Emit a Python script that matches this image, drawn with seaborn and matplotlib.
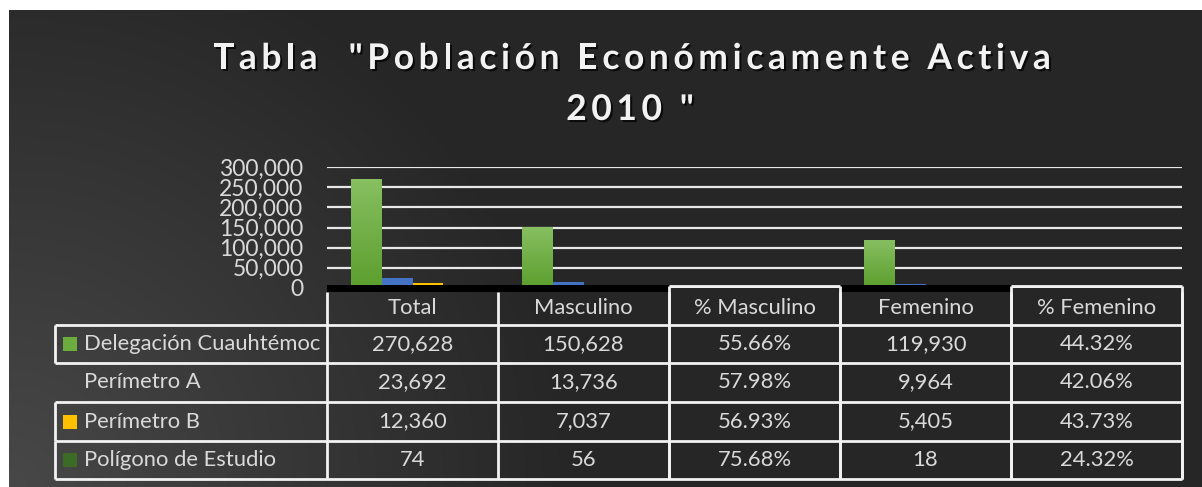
import numpy as np
import pandas as pd
import matplotlib
matplotlib.use('Agg')
import matplotlib.pyplot as plt
import seaborn as sns
from matplotlib import patheffects as pe
from matplotlib.patches import Rectangle
from matplotlib.font_manager import FontProperties
from matplotlib.ticker import FuncFormatter

categories = ['Total', 'Masculino', '% Masculino', 'Femenino', '% Femenino']
series = ['Delegación Cuauhtémoc', 'Perímetro A', 'Perímetro B', 'Polígono de Estudio']
delegacion = [270628, 150628, 0.5566, 119930, 0.4432]
perimetro_a = [23692, 13736, 0.5798, 9964, 0.4206]
perimetro_b = [12360, 7037, 0.5693, 5405, 0.4373]
poligono = [74, 56, 0.7568, 18, 0.2432]

title_lines = ['Tabla  "Población Económicamente Activa', '2010 "']

bar_colors = ['#6cab3e', '#4472c4', '#ffc000', '#3b6b24']
key_colors = ['#6cab3e', None, '#ffc000', '#3b6b24']  # Perímetro A has no key in the original

values = [delegacion, perimetro_a, perimetro_b, poligono]
df = pd.DataFrame([
    {'serie': s, 'categoria': c, 'valor': v}
    for s, vals in zip(series, values)
    for c, v in zip(categories, vals)
])


def fmt_cell(cat, v):
    if cat.startswith('%'):
        return f'{v * 100:.2f}%'
    return f'{v:,.0f}'


def spaced_text(ax, cx, y, s, extra, fp, **kw):
    """Draw s centred on cx with extra letter spacing (pixel coords of ax)."""
    r = ax.figure.canvas.get_renderer()
    bar_w = r.get_text_width_height_descent('|', fp, ismath=False)[0]
    pos = []
    for i in range(len(s)):
        w = r.get_text_width_height_descent(s[:i] + '|', fp, ismath=False)[0] - bar_w
        pos.append((w if i else 0) + i * extra)
    total = r.get_text_width_height_descent(s, fp, ismath=False)[0] + (len(s) - 1) * extra
    start = cx - total / 2
    for ch, p in zip(s, pos):
        if ch != ' ':
            ax.text(start + p, y, ch, fontproperties=fp, ha='left', va='baseline', **kw)


W, H = 1202, 487
FONT = ['Lato', 'DejaVu Sans']
TXT = '#d9d9d9'
LINE = '#f2f2f2'

sns.set_style('white')
plt.rcParams['font.family'] = FONT

fig = plt.figure(figsize=(W / 100, H / 100), dpi=100)
fig.patch.set_facecolor('white')

# dark gradient background (white strip on top and left like the original)
bg = fig.add_axes([9 / W, 0, (W - 9) / W, (H - 10) / H])
yy, xx = np.mgrid[0:H - 10, 0:W - 9]
d = np.hypot(xx, (H - 11) - yy)
v = np.clip(72 - 0.06 * d, 38, None) / 255
bg.imshow(np.dstack([v, v, v]), aspect='auto', interpolation='bilinear')
bg.axis('off')

# chart area, aligned with table columns
x0, col_w = 327, 171
y_zero, y_top = 287.7, 167.3
ax = fig.add_axes([x0 / W, (H - y_zero) / H, col_w * 5 / W, (y_zero - y_top) / H])
ax.patch.set_alpha(0)
sns.barplot(data=df, x='categoria', y='valor', hue='serie', order=categories,
            hue_order=series, palette=bar_colors, saturation=1, width=0.725,
            errorbar=None, linewidth=0, legend=False, ax=ax)
ax.set_xlim(-0.5, 4.5)
ax.set_ylim(0, 300000)
ax.set_yticks(range(0, 300001, 50000))
ax.yaxis.set_major_formatter(FuncFormatter(lambda val, _: f'{val:,.0f}'))
ax.grid(axis='y', color='#e8e8e8', lw=1.6)
ax.set_axisbelow(True)
ax.set_xticks([])
ax.set_xlabel('')
ax.set_ylabel('')
for sp in ax.spines.values():
    sp.set_visible(False)
ax.tick_params(axis='y', length=0, pad=17, labelsize=16.5, labelcolor=TXT)

# light-to-dark gradient on the green bars
grad = np.linspace(0, 1, 64)[:, None]
top, bot = np.array([0.53, 0.75, 0.38]), np.array([0.36, 0.62, 0.18])
green_img = top * (1 - grad[..., None]) + bot * grad[..., None]
for p in list(ax.patches):
    if np.allclose(p.get_facecolor()[:3], matplotlib.colors.to_rgb(bar_colors[0])) and p.get_height() > 1:
        bx, by, bw, bh = p.get_x(), p.get_y(), p.get_width(), p.get_height()
        im = ax.imshow(green_img, extent=(bx, bx + bw, by, by + bh), aspect='auto', zorder=3)
        im.set_clip_path(p)
ax.set_xlim(-0.5, 4.5)
ax.set_ylim(0, 300000)

# data table drawn underneath the plot
ov = fig.add_axes([0, 0, 1, 1])
ov.set_xlim(0, W)
ov.set_ylim(H, 0)
ov.axis('off')
ov.patch.set_alpha(0)

col_edges = [x0 + col_w * i for i in range(6)]
row_edges = [292, 325, 363, 402, 441, 479]
label_left = 55

for i, cat in enumerate(categories):
    a, b = col_edges[i], col_edges[i + 1]
    if cat.startswith('%'):
        ov.hlines(285.5, a, b, color=LINE, lw=2)
        ov.vlines([a, b], 285.5, row_edges[-1], color=LINE, lw=2)
    else:
        ov.add_patch(Rectangle((a, 284.5), b - a, 7.5, color='black', lw=0))
ov.vlines(col_edges, row_edges[0], row_edges[-1], color=LINE, lw=2)
ov.hlines(row_edges[1:], label_left, col_edges[-1], color=LINE, lw=2)
for r in range(len(series)):
    if key_colors[r] is not None:
        ov.vlines(label_left, row_edges[r + 1], row_edges[r + 2], color=LINE, lw=2)

text_kw = dict(color=TXT, fontsize=15.8, va='center', family=FONT)
for i, cat in enumerate(categories):
    cx = (col_edges[i] + col_edges[i + 1]) / 2
    ov.text(cx, (row_edges[0] + row_edges[1]) / 2, cat, ha='center', **text_kw)
    for r, vals in enumerate(values):
        cy = (row_edges[r + 1] + row_edges[r + 2]) / 2
        ov.text(cx, cy, fmt_cell(cat, vals[i]), ha='center', **text_kw)

for r, name in enumerate(series):
    cy = (row_edges[r + 1] + row_edges[r + 2]) / 2
    if key_colors[r] is not None:
        ov.add_patch(Rectangle((63, cy - 7), 14, 14, color=key_colors[r], lw=0))
    ov.text(84, cy, name, ha='left', **text_kw)

# title with wide letter spacing and a soft shadow
title_fp = FontProperties(family=FONT, weight='bold', size=25.5)
shadow = [pe.SimplePatchShadow(offset=(1.5, -1.5), shadow_rgbFace='black', alpha=0.7), pe.Normal()]
spaced_text(ov, 632, 69, title_lines[0], 4.6, title_fp, color='#f2f2f2', path_effects=shadow)
spaced_text(ov, 630, 120, title_lines[1], 4.6, title_fp, color='#f2f2f2', path_effects=shadow)

fig.savefig('out.png', dpi=100, facecolor=fig.get_facecolor())
